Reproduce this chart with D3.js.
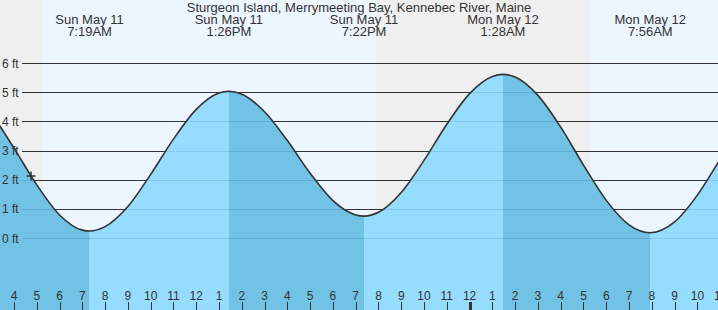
<!DOCTYPE html>
<html>
<head>
<meta charset="utf-8">
<script src="https://cdn.jsdelivr.net/npm/d3@7"></script>
<style>
  html, body { margin: 0; padding: 0; background: #fff; }
  svg { display: block; font-family: "Liberation Sans", Arial, sans-serif; }
</style>
</head>
<body>
<svg id="chart" width="718" height="310"></svg>
<script>
// ---- Data (hours since midnight, Sun May 11) ----
const title = "Sturgeon Island, Merrymeeting Bay, Kennebec River, Maine";

// tide curve samples (ft)
const sampleTimes   = [1.2, 3, 4, 5, 6, 7, 7.317, 8, 9, 10, 11, 12, 13, 13.433, 14, 15, 16, 17, 18, 19, 19.367, 20, 21, 22, 23, 24, 25, 25.467, 26, 27, 28, 29, 30, 31, 31.933, 33, 34, 35, 36, 37, 37.9];
const sampleHeights = [5.25, 4.25, 3.08, 1.82, 0.79, 0.27, 0.24, 0.39, 1.08, 2.18, 3.39, 4.41, 4.97, 5.03, 4.93, 4.33, 3.34, 2.22, 1.28, 0.79, 0.75, 0.88, 1.56, 2.66, 3.90, 4.95, 5.54, 5.61, 5.52, 4.89, 3.80, 2.50, 1.29, 0.45, 0.18, 0.55, 1.47, 2.70, 3.89, 4.73, 5.00];

// high / low extremes
const extremeTimes   = [1.2, 7.317, 13.433, 19.367, 25.467, 31.933, 37.9];
const extremeHeights = [5.25, 0.24, 5.03, 0.75, 5.61, 0.18, 5.00];

// labelled extremes
const labelTimes = [7.317, 13.433, 19.367, 25.467, 31.933];
const labelDays  = ["Sun May 11", "Sun May 11", "Sun May 11", "Mon May 12", "Mon May 12"];
const labelClock = ["7:19AM", "1:26PM", "7:22PM", "1:28AM", "7:56AM"];

// daylight periods (sunrise, sunset)
const dayStarts = [5.27, 29.28];
const dayEnds   = [19.89, 40];

// axis ticks
const hourTicks  = [4,5,6,7,8,9,10,11,12,13,14,15,16,17,18,19,20,21,22,23,24,25,26,27,28,29,30,31,32,33,34,35];
const hourLabels = ["4","5","6","7","8","9","10","11","12","1","2","3","4","5","6","7","8","9","10","11","12","1","2","3","4","5","6","7","8","9","10","11"];
const ftTicks  = [0,1,2,3,4,5,6];
const ftLabels = ["0 ft","1 ft","2 ft","3 ft","4 ft","5 ft","6 ft"];

const nowTime = 4.746;

// ---- Layout ----
const W = 718, H = 310;
const svg = d3.select("#chart");
const x = d3.scaleLinear().domain([3.3854, 34.905]).range([0, W]);
const y = d3.scaleLinear().domain([0, 6]).range([238, 63]);

const nightColor = "#efefef", dayColor = "#edf5fe";
const riseColor = "#8bd9fe", fallColor = "#64bce3";
const ink = "#333";

// background (night)
svg.append("rect").attr("x", 0).attr("y", 0).attr("width", W).attr("height", H).attr("fill", nightColor);
// daylight bands
svg.selectAll("rect.day").data(dayStarts).enter().append("rect")
  .attr("class", "day")
  .attr("x", (d) => Math.round(x(d)))
  .attr("y", 0)
  .attr("width", (d, i) => Math.min(W, x(dayEnds[i])) - Math.round(x(d)))
  .attr("height", H)
  .attr("fill", dayColor);

// gridlines
svg.selectAll("line.grid").data(ftTicks).enter().append("line")
  .attr("class", "grid")
  .attr("x1", 22).attr("x2", W)
  .attr("y1", (d) => Math.round(y(d)) + 0.5).attr("y2", (d) => Math.round(y(d)) + 0.5)
  .attr("stroke", ink).attr("stroke-width", 1);

// tide area
const pts = sampleTimes.map((t, i) => [t, sampleHeights[i]]);
const area = d3.area().x((d) => x(d[0])).y0(H).y1((d) => y(d[1])).curve(d3.curveMonotoneX);
const line = d3.line().x((d) => x(d[0])).y((d) => y(d[1])).curve(d3.curveMonotoneX);

svg.append("clipPath").attr("id", "tideClip").append("path").attr("d", area(pts));

const segs = extremeTimes.slice(0, -1).map((t, i) => ({
  t0: t, t1: extremeTimes[i + 1],
  falling: extremeHeights[i] > extremeHeights[i + 1]
}));
svg.append("g").attr("clip-path", "url(#tideClip)")
  .selectAll("rect").data(segs).enter().append("rect")
  .attr("x", (d) => x(d.t0))
  .attr("y", 0)
  .attr("width", (d) => x(d.t1) - x(d.t0))
  .attr("height", H)
  .attr("fill", (d) => d.falling ? fallColor : riseColor)
  .attr("fill-opacity", 0.9);

svg.append("path").attr("d", line(pts))
  .attr("fill", "none").attr("stroke", ink).attr("stroke-width", 1.6);

// current time marker
const nowH = (function () {
  // read position on the curve from the sample path via bisection of x
  const p = svg.select("path:last-of-type").node();
  const target = x(nowTime);
  let lo = 0, hi = p.getTotalLength();
  for (let k = 0; k < 40; k++) {
    const mid = (lo + hi) / 2;
    if (p.getPointAtLength(mid).x < target) lo = mid; else hi = mid;
  }
  return p.getPointAtLength(lo).y;
})();
const mx = x(nowTime);
svg.append("line").attr("x1", mx - 4.5).attr("x2", mx + 4.5).attr("y1", nowH).attr("y2", nowH)
  .attr("stroke", ink).attr("stroke-width", 1.5);
svg.append("line").attr("x1", mx).attr("x2", mx).attr("y1", nowH - 4.5).attr("y2", nowH + 4.5)
  .attr("stroke", ink).attr("stroke-width", 1.5);

// y labels
svg.selectAll("text.ft").data(ftTicks).enter().append("text")
  .attr("class", "ft")
  .attr("x", 2).attr("y", (d) => y(d) + 4.5)
  .attr("font-size", 12).attr("fill", ink)
  .text((d, i) => ftLabels[i]);

// title
svg.append("text").attr("x", 359).attr("y", 12)
  .attr("text-anchor", "middle").attr("font-size", 13).attr("fill", ink)
  .text(title);

// extreme labels
const lab = svg.selectAll("g.ext").data(labelTimes).enter().append("g").attr("class", "ext");
lab.append("text").attr("x", (d) => x(d)).attr("y", 24)
  .attr("text-anchor", "middle").attr("font-size", 13).attr("fill", ink)
  .text((d, i) => labelDays[i]);
lab.append("text").attr("x", (d) => x(d)).attr("y", 36)
  .attr("text-anchor", "middle").attr("font-size", 13).attr("fill", ink)
  .text((d, i) => labelClock[i]);

// hour axis
const xAxis = svg.append("g");
xAxis.selectAll("line").data(hourTicks).enter().append("line")
  .attr("x1", (d) => Math.round(x(d)) + 0.5).attr("x2", (d) => Math.round(x(d)) + 0.5)
  .attr("y1", 302).attr("y2", H)
  .attr("stroke", ink)
  .attr("stroke-width", (d) => d % 24 === 0 ? 3 : 1);
xAxis.selectAll("text").data(hourTicks).enter().append("text")
  .attr("x", (d) => x(d)).attr("y", 300)
  .attr("text-anchor", "middle").attr("font-size", 12).attr("fill", ink)
  .text((d, i) => hourLabels[i]);
</script>
</body>
</html>
